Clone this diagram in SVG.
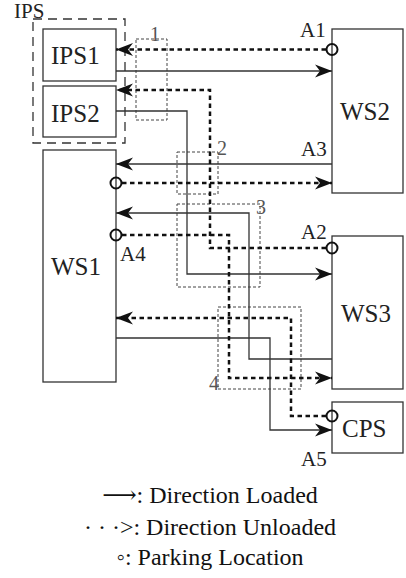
<svg xmlns="http://www.w3.org/2000/svg" width="406" height="578" viewBox="0 0 406 578">
<style>
.box{fill:#fff;stroke:#333;stroke-width:1.3}
.lbl{font-size:25px;fill:#222}
.alb{font-size:21px;fill:#222}
.dig{font-size:20px;fill:#555}
.solid{fill:none;stroke:#333;stroke-width:1.3}
.dot{fill:none;stroke:#111;stroke-width:2.5;stroke-dasharray:4.5 3.5}
.region{fill:none;stroke:#444;stroke-width:1;stroke-dasharray:3 2}
.park{fill:none;stroke:#111;stroke-width:2}
.leg{font-size:24px;fill:#111}
</style>
<defs>
<marker id="arr" markerUnits="userSpaceOnUse" orient="auto" refX="0" refY="0" markerWidth="20" markerHeight="14" overflow="visible">
<path d="M0,0 L-17,-6.5 L-12,0 L-17,6.5 Z" fill="#111"/>
</marker>
</defs>
<g font-family="'Liberation Serif', 'Times New Roman', 'DejaVu Serif', serif">
<g id="ips-group">
<rect x="33" y="19" width="92" height="124" fill="none" stroke="#333" stroke-width="1.3" stroke-dasharray="9 6"/>
<text class="alb" x="14" y="18" font-size="20">IPS</text>
</g>
<g id="IPS1"><rect class="box" x="43" y="29" width="73" height="52"/><text class="lbl" x="51" y="64">IPS1</text></g>
<g id="IPS2"><rect class="box" x="43" y="86" width="73" height="51"/><text class="lbl" x="51" y="122">IPS2</text></g>
<g id="WS1"><rect class="box" x="43" y="150" width="73" height="232"/><text class="lbl" x="51" y="275">WS1</text></g>
<g id="WS2"><rect class="box" x="332" y="29" width="71" height="164"/><text class="lbl" x="340" y="120">WS2</text></g>
<g id="WS3"><rect class="box" x="332" y="236" width="71" height="153"/><text class="lbl" x="341" y="322">WS3</text></g>
<g id="CPS"><rect class="box" x="332" y="402" width="71" height="51"/><text class="lbl" x="342" y="437">CPS</text></g>

<g id="regions">
<rect class="region" x="136" y="39" width="31" height="81"/>
<rect class="region" x="177" y="152" width="41" height="42"/>
<rect class="region" x="177" y="204" width="83" height="83"/>
<rect class="region" x="218" y="307" width="83" height="82"/>
<text class="dig" x="150" y="41">1</text>
<text class="dig" x="217" y="155">2</text>
<text class="dig" x="256" y="214">3</text>
<text class="dig" x="209" y="390">4</text>
</g>

<g id="connectors">
<path class="solid" d="M116,71 H332" marker-end="url(#arr)"/>
<path class="solid" d="M116,111 H187 V274 H332" marker-end="url(#arr)"/>
<path class="solid" d="M332,164 H116" marker-end="url(#arr)"/>
<path class="solid" d="M332,359 H249 V213 H116" marker-end="url(#arr)"/>
<path class="solid" d="M116,338 H270 V430 H332" marker-end="url(#arr)"/>
<path class="dot" d="M326,49.5 H116" marker-end="url(#arr)"/>
<path class="dot" d="M326,248 H210 V90 H116" marker-end="url(#arr)"/>
<path class="dot" d="M122,183 H332" marker-end="url(#arr)"/>
<path class="dot" d="M122,235 H229 V378 H332" marker-end="url(#arr)"/>
<path class="dot" d="M326,416 H291 V318 H116" marker-end="url(#arr)"/>
</g>

<g id="parking">
<circle class="park" cx="332" cy="49.5" r="5.5"/>
<circle class="park" cx="332" cy="248" r="5.5"/>
<circle class="park" cx="116" cy="183" r="5.5"/>
<circle class="park" cx="116" cy="235" r="5.5"/>
<circle class="park" cx="332" cy="416" r="5.5"/>
<text class="alb" x="300" y="37">A1</text>
<text class="alb" x="301" y="156">A3</text>
<text class="alb" x="301" y="239">A2</text>
<text class="alb" x="120" y="261">A4</text>
<text class="alb" x="301" y="466">A5</text>
</g>

<g id="legend">
<text class="leg" x="210" y="503" text-anchor="middle">⟶: Direction Loaded</text>
<text class="leg" x="210" y="535" text-anchor="middle">· · ·&gt;: Direction Unloaded</text>
<text class="leg" x="210" y="565" text-anchor="middle">◦: Parking Location</text>
</g>
</g>
</svg>
